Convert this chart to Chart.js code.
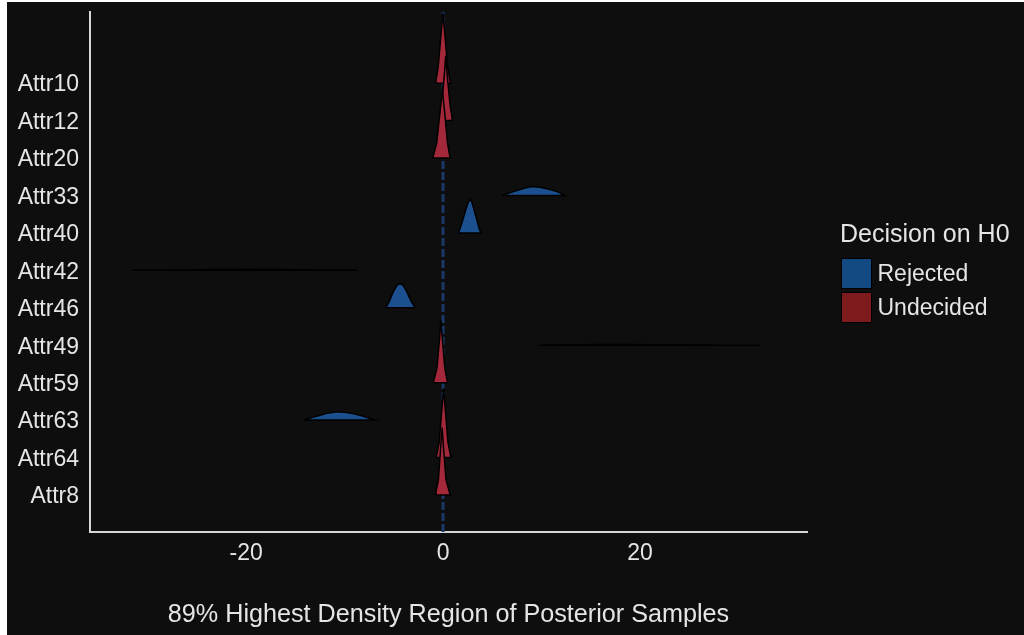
<!DOCTYPE html>
<html><head><meta charset="utf-8">
<script src="https://cdn.jsdelivr.net/npm/chart.js@4.4.0/dist/chart.umd.min.js"></script>
<style>
html,body{margin:0;padding:0;background:#ffffff;width:1024px;height:635px;overflow:hidden;font-family:'Liberation Sans',Arial,sans-serif;}
#wrap{position:absolute;left:7px;top:2px;width:1017px;height:633px;background:#0e0e0e;}
.lg{position:absolute;color:#e5e5e5;font-size:23px;line-height:23px;white-space:nowrap;}
.lgt{position:absolute;color:#e5e5e5;font-size:25px;line-height:25px;white-space:nowrap;}
.box{position:absolute;width:31px;height:31px;box-sizing:border-box;border:1.5px solid #000;}
</style></head>
<body>
<div id="wrap"><canvas id="c"></canvas></div>
<div id="legend"></div>
<script>
// ---- data ----
const categories = ['Attr10','Attr12','Attr20','Attr33','Attr40','Attr42','Attr46','Attr49','Attr59','Attr63','Attr64','Attr8'];
const decisions  = ['Undecided','Undecided','Undecided','Rejected','Rejected','Rejected','Rejected','Rejected','Undecided','Rejected','Undecided','Undecided'];
const legendTitle = 'Decision on H0';
const legendLabels = ['Rejected','Undecided'];
const xTicks = [-20, 0, 20];
const refLineX = 0;
const xTitle = '89% Highest Density Region of Posterior Samples';

// density outlines: x positions and heights (height in units of row spacing)
const attr10X = [-0.76,-0.70,-0.50,-0.20,-0.03,0.17,0.47,0.67,0.78];
const attr10H = [0,0.10,0.43,1.33,1.87,1.33,0.43,0.10,0];
const attr12X = [-0.38,-0.33,-0.15,0.12,0.27,0.42,0.72,0.90,0.95];
const attr12H = [0,0.10,0.40,1.20,1.74,1.20,0.40,0.10,0];
const attr20X = [-1.05,-0.95,-0.65,-0.30,-0.07,0.15,0.45,0.65,0.72];
const attr20H = [0,0.10,0.40,1.25,1.80,1.25,0.40,0.10,0];
const attr33X = [5.96,6.63,7.48,8.32,9.00,9.85,10.86,11.71,12.39];
const attr33H = [0,0.06,0.13,0.20,0.24,0.22,0.16,0.09,0];
const attr40X = [1.55,1.80,2.06,2.34,2.57,2.74,2.91,3.15,3.42,3.65,3.83];
const attr40H = [0,0.18,0.40,0.65,0.83,0.89,0.83,0.62,0.36,0.13,0];
const attr42X = [-31.6,-28,-24,-20,-16,-12,-8.7];
const attr42H = [0,0.005,0.02,0.03,0.025,0.008,0];
const attr46X = [-5.82,-5.45,-5.05,-4.70,-4.37,-4.03,-3.69,-3.25,-2.84];
const attr46H = [0,0.18,0.43,0.59,0.65,0.59,0.43,0.18,0];
const attr49X = [9.78,13,16,19,22,25,28,32.2];
const attr49H = [0,0.01,0.02,0.022,0.015,0.008,0.003,0];
const attr59X = [-1.00,-0.90,-0.62,-0.35,-0.23,-0.08,0.17,0.38,0.45];
const attr59H = [0,0.10,0.40,1.20,1.66,1.20,0.40,0.10,0];
const attr63X = [-14.18,-13.5,-12.66,-11.81,-10.96,-10.46,-9.78,-8.93,-8.09,-7.41,-6.90];
const attr63H = [0,0.053,0.115,0.18,0.215,0.22,0.205,0.16,0.10,0.045,0];
const attr64X = [-0.72,-0.62,-0.40,-0.12,0.05,0.22,0.50,0.72,0.78];
const attr64H = [0,0.10,0.40,1.30,1.85,1.30,0.40,0.10,0];
const attr8X  = [-0.82,-0.72,-0.48,-0.25,-0.10,0.05,0.30,0.62,0.72];
const attr8H  = [0,0.10,0.40,1.25,1.80,1.25,0.40,0.10,0];

const ridgeX = [attr10X,attr12X,attr20X,attr33X,attr40X,attr42X,attr46X,attr49X,attr59X,attr63X,attr64X,attr8X];
const ridgeH = [attr10H,attr12H,attr20H,attr33H,attr40H,attr42H,attr46H,attr49H,attr59H,attr63H,attr64H,attr8H];

// ---- styles ----
const fillColor = {Rejected:'#1b4f8e', Undecided:'#a3283a'};
const legendColor = {Rejected:'#134a82', Undecided:'#7e1b1c'};
const textColor = '#e5e5e5';
const axisColor = '#d6d6d6';
const FONT = "'Liberation Sans', Arial, sans-serif";
const X_MIN = -35.85, X_MAX = 36.95, Y_MIN = 0.012, Y_MAX = 13.9;

const n = categories.length;
const datasets = [];
for (let i = n - 1; i >= 0; i--) {       // bottom rows first => drawn on top
  const pos = n - i;
  const xs = ridgeX[i], hs = ridgeH[i];
  const pts = xs.map((xv, k) => ({x: xv, y: pos + hs[k]}));
  pts.push({x: xs[0], y: pos});            // close along the baseline
  datasets.push({
    label: categories[i],
    data: pts,
    backgroundColor: fillColor[decisions[i]],
    borderColor: '#000000',
    borderWidth: 1.5,
    fill: 'shape',
    tension: 0,
    pointRadius: 0
  });
}
datasets.push({
  label: 'zero',
  data: [{x: refLineX, y: Y_MIN}, {x: refLineX, y: Y_MAX}],
  borderColor: '#1b3866',
  borderWidth: 3,
  borderDash: [8, 3],
  fill: false,
  pointRadius: 0
});

new Chart(document.getElementById('c'), {
  type: 'line',
  data: {datasets},
  options: {
    responsive: true,
    maintainAspectRatio: false,
    animation: false,
    layout: {padding: {top: 10, right: 217, left: 0, bottom: 0}},
    plugins: {legend: {display: false}, tooltip: {enabled: false}},
    scales: {
      x: {
        type: 'linear', min: X_MIN, max: X_MAX,
        grid: {display: false, drawTicks: false},
        border: {display: true, color: axisColor, width: 2},
        afterBuildTicks: s => { s.ticks = xTicks.map(v => ({value: v})); },
        afterFit: s => { s.height = 103; s.paddingLeft = 0; s.paddingRight = 0; },
        ticks: {color: textColor, font: {family: FONT, size: 23}, padding: 8, autoSkip: false, maxRotation: 0,
                callback: v => String(v)},
        title: {display: true, text: xTitle, color: textColor, font: {family: FONT, size: 25.2}, padding: {top: 0, bottom: 5}}
      },
      y: {
        type: 'linear', min: Y_MIN, max: Y_MAX,
        grid: {display: false, drawTicks: false},
        border: {display: true, color: axisColor, width: 2},
        afterBuildTicks: s => { s.ticks = categories.map((c, i) => ({value: n - i})); },
        afterFit: s => { s.width = 83; s.paddingTop = 0; s.paddingBottom = 0; },
        ticks: {color: textColor, font: {family: FONT, size: 23}, padding: 11, autoSkip: false, labelOffset: 2,
                callback: v => categories[n - v]}
      }
    }
  }
});

// legend (HTML text)
const lg = document.getElementById('legend');
function addEl(cls, left, top, text, bg) {
  const d = document.createElement('div');
  d.className = cls; d.style.left = left + 'px'; d.style.top = top + 'px';
  if (text) d.textContent = text;
  if (bg) d.style.background = bg;
  lg.appendChild(d);
}
addEl('lgt', 840, 220.5, legendTitle);
legendLabels.forEach((lab, k) => {
  addEl('box', 841, 258 + k * 34, null, legendColor[lab]);
  addEl('lg', 877.5, 262 + k * 34, lab);
});
</script>
</body></html>
